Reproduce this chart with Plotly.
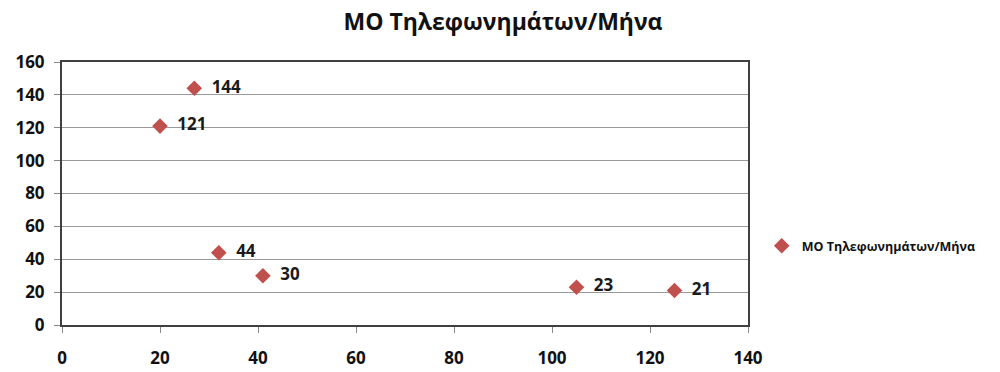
import plotly.graph_objects as go

# Calls per month: x position and average value
x_vals = [20, 27, 32, 41, 105, 125]
y_vals = [121, 144, 44, 30, 23, 21]
series_name = "ΜΟ Τηλεφωνημάτων/Μήνα"
title_text = "ΜΟ Τηλεφωνημάτων/Μήνα"

marker_color = "#C0504D"
font_family = "Open Sans, Liberation Sans, sans-serif"

fig = go.Figure()
fig.add_trace(go.Scatter(
    x=x_vals,
    y=y_vals,
    mode="markers+text",
    name=series_name,
    text=["  " + str(v) for v in y_vals],
    textposition="middle right",
    textfont=dict(family=font_family, size=17, color="#1a1a1a", weight="bold"),
    marker=dict(symbol="diamond", size=12, color=marker_color),
    cliponaxis=False,
))

fig.update_layout(
    width=1000,
    height=372,
    margin=dict(l=62, r=252, t=62, b=47),
    paper_bgcolor="white",
    plot_bgcolor="white",
    title=dict(
        text=title_text,
        x=0.503,
        xanchor="center",
        y=0.94,
        yanchor="middle",
        font=dict(family=font_family, size=23, color="#111111", weight="bold"),
    ),
    showlegend=True,
    legend=dict(
        x=1.02,
        xanchor="left",
        y=0.30,
        yanchor="middle",
        font=dict(family=font_family, size=12.5, color="#111111", weight="bold"),
        itemwidth=30,
        bgcolor="rgba(0,0,0,0)",
    ),
    xaxis=dict(
        range=[0, 140],
        dtick=20,
        tick0=0,
        automargin=False,
        showgrid=False,
        zeroline=False,
        showline=True,
        linecolor="#404040",
        linewidth=2,
        mirror=True,
        ticks="outside",
        ticklen=6,
        tickcolor="#888888",
        ticklabelstandoff=11,
        tickfont=dict(family=font_family, size=17, color="#111111", weight="bold"),
    ),
    yaxis=dict(
        range=[0, 160],
        dtick=20,
        tick0=0,
        automargin=False,
        showgrid=True,
        gridcolor="#9a9a9a",
        gridwidth=1,
        zeroline=False,
        showline=True,
        linecolor="#404040",
        linewidth=2,
        mirror=True,
        ticks="outside",
        ticklen=6,
        tickcolor="#888888",
        ticklabelstandoff=6,
        tickfont=dict(family=font_family, size=17, color="#111111", weight="bold"),
    ),
)

fig.write_html("out.html")
